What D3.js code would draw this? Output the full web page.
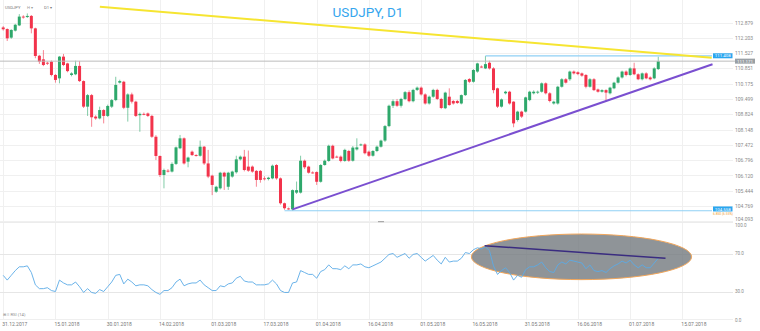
<!DOCTYPE html>
<html><head><meta charset="utf-8">
<script src="https://cdn.jsdelivr.net/npm/d3@7"></script>
<style>body{margin:0;background:#fff}svg{display:block;font-family:Roboto,"Noto Sans",sans-serif}</style>
</head><body><svg id="c" width="760" height="331"></svg>
<script>
const opens=[112.66,112.59,112.21,112.52,112.75,113.14,113.12,113.17,112.62,111.41,111.25,111.10,111.15,110.56,110.41,111.37,111.07,110.56,110.59,110.96,110.29,109.16,109.67,108.72,108.64,109.01,108.75,109.16,109.45,110.22,110.26,109.11,109.70,109.38,108.78,108.84,108.86,108.75,107.83,106.98,106.14,106.33,106.29,106.63,107.32,107.76,106.73,107.17,107.02,106.99,107.39,106.65,106.11,105.40,105.55,106.24,105.62,106.07,106.26,106.83,106.95,106.51,106.51,106.32,106.32,105.99,105.96,105.99,106.58,105.99,104.89,104.66,104.62,105.36,105.36,106.77,106.51,106.25,106.27,105.84,106.58,106.76,107.43,106.95,106.95,106.76,107.20,106.77,107.27,107.46,107.49,107.17,106.99,107.20,107.39,
107.66,108.30,109.20,109.40,109.20,109.50,109.80,109.40,109.90,110.00,109.70,109.30,109.60,109.90,109.50,
109.09,109.60,109.41,109.41,109.30,109.67,110.38,110.26,110.71,110.93,110.85,111.10,110.85,109.97,109.16,109.75,109.82,109.38,108.57,108.94,108.94,109.45,109.75,109.78,109.82,110.19,109.75,109.30,109.30,110.04,110.37,110.37,110.71,110.68,110.63,110.56,110.04,110.37,109.92,109.82,109.89,109.75,109.97,110.22,110.45,110.71,110.56,110.85,110.59,110.37,110.63,110.45,110.41,110.82];
const highs=[112.72,112.62,112.58,112.82,113.25,113.20,113.28,113.21,112.65,111.45,111.66,111.15,111.20,110.60,111.40,111.49,111.10,110.68,111.19,111.18,110.32,109.72,109.72,108.78,109.16,109.05,109.25,109.50,110.48,110.35,110.30,109.75,109.78,109.42,108.90,108.90,108.90,108.80,107.90,107.00,106.42,106.40,106.70,107.40,107.91,107.80,106.95,107.22,107.06,107.66,107.42,107.25,106.15,105.66,106.28,106.28,106.28,106.33,106.99,107.00,107.25,107.22,106.56,106.36,106.36,106.08,106.06,106.60,106.62,106.03,104.92,104.70,105.50,105.85,106.99,106.82,106.55,106.30,106.30,106.62,106.82,107.48,107.48,107.00,107.00,107.30,107.25,107.42,107.76,107.53,107.54,107.22,107.24,107.44,107.70,
108.35,109.25,109.48,109.50,109.55,109.85,109.88,109.95,110.05,110.05,109.75,109.65,109.95,109.95,109.55,
109.82,109.97,109.45,109.46,109.70,110.38,110.42,110.82,111.10,110.98,111.40,111.19,110.90,110.00,109.52,109.86,109.86,109.40,108.98,108.98,109.60,109.86,109.88,109.87,110.23,110.23,109.80,109.42,110.08,110.42,110.42,110.75,110.76,110.72,110.67,110.60,110.42,110.42,109.96,109.93,109.93,110.04,110.26,110.50,110.75,110.76,110.90,111.10,110.63,110.67,110.68,110.50,110.90,111.37];
const lows=[112.52,112.06,112.16,112.48,112.72,113.05,113.08,112.40,111.30,111.05,110.95,111.00,110.50,110.22,110.19,110.95,110.68,110.50,110.55,110.25,109.10,108.75,108.27,108.58,108.60,108.42,108.70,109.10,109.40,110.18,109.05,108.50,109.30,108.70,108.05,108.78,108.70,107.78,106.80,106.05,105.55,106.25,106.25,106.58,107.28,106.60,106.48,106.98,106.95,106.95,106.58,106.00,105.25,105.35,105.50,105.48,105.48,106.02,106.20,106.78,106.30,106.28,106.24,105.62,105.80,105.90,105.90,105.95,105.93,104.83,104.60,104.60,104.56,105.30,105.32,106.40,106.20,106.20,105.70,105.80,106.55,106.72,106.83,106.90,106.70,106.72,106.72,106.73,107.22,107.42,107.05,106.94,106.95,107.15,107.35,
107.60,108.25,109.10,109.15,109.12,109.45,109.35,109.35,109.85,109.65,109.25,109.25,109.55,109.45,109.05,
109.05,109.20,109.25,109.28,109.26,109.63,110.20,110.22,110.66,110.88,110.82,110.80,109.75,109.10,109.12,109.70,109.25,108.25,108.50,108.66,108.90,109.40,109.70,109.72,109.78,109.70,109.35,109.25,109.25,110.00,110.18,110.30,110.58,110.55,110.48,109.97,110.00,109.85,109.78,109.78,109.38,109.70,109.93,110.18,110.40,110.50,110.52,110.55,110.33,110.32,110.37,110.32,110.37,110.78];
const closes=[112.58,112.18,112.55,112.78,113.14,113.11,113.17,112.62,111.40,111.15,111.00,111.08,110.56,110.34,111.37,111.00,110.73,110.63,110.96,110.29,109.16,109.67,108.69,108.64,109.01,108.75,109.19,109.45,110.12,110.29,109.11,109.70,109.38,108.75,108.84,108.83,108.75,107.83,106.98,106.14,106.36,106.32,106.63,107.36,107.76,106.65,106.91,107.02,107.00,107.39,106.65,106.07,105.70,105.62,106.24,106.07,106.24,106.29,106.83,106.95,106.36,106.33,106.29,105.92,105.92,105.98,106.02,106.55,105.99,104.89,104.67,104.65,105.47,105.47,106.77,106.48,106.24,106.24,105.84,106.58,106.77,107.43,106.87,106.94,106.76,107.25,106.77,107.35,107.36,107.49,107.10,106.99,107.20,107.39,107.66,
108.30,109.20,109.40,109.20,109.50,109.80,109.40,109.90,110.00,109.70,109.30,109.60,109.90,109.50,109.10,
109.78,109.23,109.30,109.32,109.67,110.34,110.26,110.78,111.07,110.92,111.04,110.85,109.89,109.16,109.48,109.82,109.30,108.42,108.94,108.72,109.57,109.82,109.82,109.82,110.19,109.75,109.41,109.38,110.04,110.37,110.22,110.71,110.63,110.60,110.53,110.04,110.37,109.89,109.82,109.89,109.78,110.00,110.22,110.45,110.71,110.56,110.85,110.59,110.37,110.63,110.41,110.37,110.85,111.17];
const rsi=[47,42,47,52,56,56,57,50,37,33,33,34,31,30,42,39,37,37,40,35,29,33,29,28,32,30,35,40,47,48,38,43,40,36,37,37,36,32,29,27,31,31,34,40,43,36,38,39,39,42,37,34,31,31,36,35,38,39,44,46,41,40,40,37,37,37,38,42,38,31,29,29,39,40,52,50,48,48,44,51,53,58,54,54,53,57,54,58,58,59,56,55,57,59,61,65,69,70,66,68,70,65,69,70,66,62,65,68,63,59,66,61,62,62,65,71,70,74,76,75,77,73,57,48,52,55,50,42,47,45,53,56,56,58,61,55,51,50,58,61,59,63,62,61,60,54,58,52,51,52,50,54,57,59,62,60,63,58,55,58,55,55,60,65];
const xTickIdx=[0,13,26,39,52,65,78,91,104,117,130,143,156,169];
const xTickLabels=["31.12.2017","15.01.2018","30.01.2018","14.02.2018","01.03.2018","17.03.2018","01.04.2018","16.04.2018","01.05.2018","16.05.2018","31.05.2018","16.06.2018","01.07.2018","15.07.2018"];
const yTicks=[104.093,104.769,105.444,106.120,106.796,107.472,108.148,108.824,109.499,110.175,110.851,111.527,112.203,112.879];
const rsiTicks=[100,70,30,0];
const lastPrice=111.171;
const levels=[{from:120,price:111.408},{from:70,price:104.558}];
const yellowLine=[[24.05,113.576],[176.3,111.322]];
const purpleLine=[[72,104.62],[176.5,111.035]];
const rsiEllipse={cx:143.9,cy:66.5,rx:27.4,ry:24};
const rsiDivergence=[[119.8,78.2],[164.8,64.9]];

const svg=d3.select("#c");
const x=d3.scaleLinear().domain([-0.8,181.6]).range([0,733]);
const y=d3.scaleLinear().domain([104.769,112.879]).range([206,22.5]);
const yr=d3.scaleLinear().domain([0,100]).range([320,225]);
const GREEN="#2ea86b",RED="#f2334b";

svg.append("rect").attr("width",760).attr("height",331).attr("fill","#fff");
// grid
const grid=svg.append("g").attr("stroke","#f0f0f0").attr("stroke-width",1);
grid.selectAll("line.v").data(xTickIdx).join("line").attr("class","v")
  .attr("x1",d=>Math.round(x(d))+0.5).attr("x2",d=>Math.round(x(d))+0.5).attr("y1",0).attr("y2",320);
grid.selectAll("line.h").data(yTicks).join("line").attr("class","h")
  .attr("x1",0).attr("x2",733).attr("y1",d=>Math.round(y(d))+0.5).attr("y2",d=>Math.round(y(d))+0.5);
svg.append("g").attr("stroke","#e6e6e6").selectAll("line").data([70,30]).join("line")
  .attr("x1",0).attr("x2",733).attr("y1",d=>Math.round(yr(d))+0.5).attr("y2",d=>Math.round(yr(d))+0.5);
svg.append("line").attr("x1",0).attr("x2",733).attr("y1",222.5).attr("y2",222.5).attr("stroke","#ececec");
svg.append("line").attr("x1",0).attr("x2",733).attr("y1",319.5).attr("y2",319.5).attr("stroke","#efefef");
svg.append("rect").attr("x",378).attr("y",221).attr("width",6).attr("height",1.2).attr("fill","#aaa");

// main pane
const main=svg.append("g");
const idx=d3.range(closes.length);
main.selectAll("line.wick").data(idx).join("line").attr("class","wick")
  .attr("x1",i=>x(i)).attr("x2",i=>x(i)).attr("y1",i=>y(highs[i])).attr("y2",i=>y(lows[i]))
  .attr("stroke",i=>closes[i]>=opens[i]?GREEN:RED).attr("stroke-opacity",0.6).attr("stroke-width",1);
main.selectAll("rect.body").data(idx).join("rect").attr("class","body")
  .attr("x",i=>x(i)-1.5).attr("width",3)
  .attr("y",i=>y(Math.max(opens[i],closes[i])))
  .attr("height",i=>Math.max(0.9,Math.abs(y(opens[i])-y(closes[i]))))
  .attr("fill",i=>closes[i]>=opens[i]?GREEN:RED);

// level lines
main.append("line").attr("x1",0).attr("x2",735).attr("y1",y(lastPrice)).attr("y2",y(lastPrice)).attr("stroke","#bdbdbd").attr("stroke-width",1);
main.selectAll("line.lvl").data(levels).join("line").attr("class","lvl")
  .attr("x1",d=>x(d.from)).attr("x2",712).attr("y1",d=>y(d.price)).attr("y2",d=>y(d.price))
  .attr("stroke","#8fd0f5").attr("stroke-width",1.2);
const ln=d3.line().x(d=>x(d[0])).y(d=>y(d[1]));
main.append("path").attr("d",ln(yellowLine)).attr("stroke","#f6e531").attr("stroke-width",2).attr("fill","none");
main.append("path").attr("d",ln(purpleLine)).attr("stroke","#7a4fd0").attr("stroke-width",2).attr("fill","none");

// y axis
const yAxis=svg.append("g").attr("transform","translate(735,0)")
  .call(d3.axisRight(y).tickValues(yTicks).tickSize(0).tickPadding(0).tickFormat(d3.format(".3f")));
yAxis.select(".domain").remove();
yAxis.selectAll("text").attr("fill","#8a8a8a").attr("font-size",5).attr("font-family","Roboto")
  .attr("y",d=>Math.min(y(d),218.7)-y(d));

// price tags
function tag(xp,yc,w,fill,txt,tc){
  svg.append("rect").attr("x",xp).attr("y",yc-2.5).attr("width",w).attr("height",5).attr("fill",fill);
  svg.append("text").attr("x",xp+w/2).attr("y",yc).attr("dy","0.35em").attr("text-anchor","middle")
    .attr("font-size",4.4).attr("fill",tc).text(txt);
}
tag(713,y(levels[0].price),19.5,"#2aa6ef",d3.format(".3f")(levels[0].price),"#fff");
tag(735,y(lastPrice),20,"#9aa0a5",d3.format(".3f")(lastPrice),"#fff");
tag(713,y(levels[1].price)-1.8,19.5,"#2aa6ef",d3.format(".3f")(levels[1].price),"#fff");
const diff=levels[0].price-levels[1].price;
svg.append("text").attr("x",713).attr("y",214.2).attr("dy","0.35em").attr("font-size",3.6)
  .attr("fill","#f0a030").attr("textLength",20).attr("lengthAdjust","spacingAndGlyphs")
  .text(d3.format(".3f")(diff)+" ("+d3.format(".2%")(diff/levels[1].price)+")");

// RSI pane
const rl=d3.line().x((d,i)=>x(i)).y(d=>yr(d));
svg.append("ellipse").attr("cx",x(rsiEllipse.cx)).attr("cy",yr(rsiEllipse.cy))
  .attr("rx",x(rsiEllipse.cx+rsiEllipse.rx)-x(rsiEllipse.cx)).attr("ry",yr(rsiEllipse.cy-rsiEllipse.ry)-yr(rsiEllipse.cy))
  .attr("fill","#70767b").attr("fill-opacity",0.78).attr("stroke","#f2a65a").attr("stroke-width",1);
svg.append("path").attr("d",rl(rsi)).attr("fill","none").attr("stroke","#5aaae6").attr("stroke-width",0.9);
svg.append("path").attr("d",d3.line().x(d=>x(d[0])).y(d=>yr(d[1]))(rsiDivergence)).attr("stroke","#3a2c80").attr("stroke-width",1.5);
const rAxis=svg.append("g").attr("transform","translate(735,0)")
  .call(d3.axisRight(yr).tickValues(rsiTicks).tickSize(0).tickPadding(0).tickFormat(d3.format(".1f")));
rAxis.select(".domain").remove();
rAxis.selectAll("text").attr("fill","#8a8a8a").attr("font-size",4.6).attr("font-family","Roboto");

// x axis
const xAxis=svg.append("g").attr("transform","translate(0,320)")
  .call(d3.axisBottom(x).tickValues(xTickIdx).tickSize(0).tickPadding(0).tickFormat((d,i)=>xTickLabels[i]));
xAxis.select(".domain").remove();
xAxis.selectAll("text").attr("fill","#777").attr("font-size",5).attr("font-family","Roboto")
  .attr("text-anchor","start").attr("dx",-1.5).attr("y",2.2);

// legends & title
svg.append("text").attr("x",3).attr("y",316).attr("font-size",4.2).attr("fill","#888").text("⊞ ≡ RSI (14)");
svg.append("text").attr("x",5).attr("y",8.5).attr("font-size",4.2).attr("fill","#777").text("USDJPY");
svg.append("text").attr("x",27).attr("y",8.5).attr("font-size",4.2).attr("fill","#999").text("H  ▾");
svg.append("text").attr("x",44).attr("y",8.5).attr("font-size",4.2).attr("fill","#777").text("D1  ▾");
svg.append("text").attr("x",368).attr("y",17).attr("text-anchor","middle").attr("font-size",13.5)
  .attr("fill","#35a6ee").attr("font-family","Roboto").text("USDJPY, D1");
</script></body></html>
